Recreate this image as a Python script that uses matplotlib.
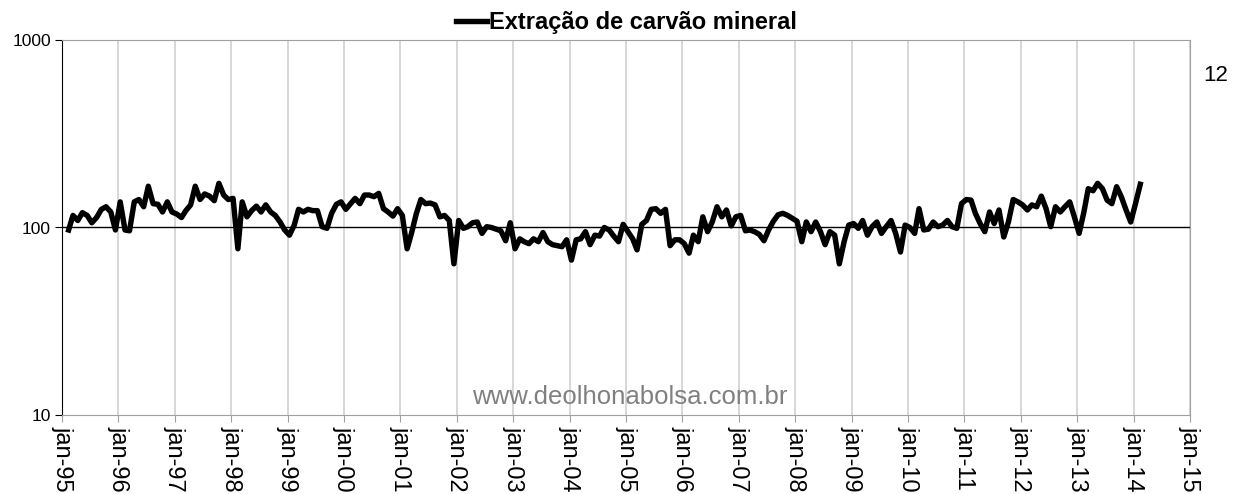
# Extração de carvão mineral - índice mensal (escala log)
import matplotlib
matplotlib.use('Agg')
import matplotlib.pyplot as plt
import pandas as pd

# dados mensais, fev-95 até fev-14
inicio = '1995-02-01'
indice = [
    97, 116, 109, 120, 116, 106, 113, 125, 129, 121, 97,
    137, 97, 96, 137, 141, 129, 166, 134, 133, 121, 137, 121,
    118, 113, 123, 132, 166, 141, 151, 147, 139, 172, 149, 141,
    143, 77, 137, 114, 123, 130, 121, 132, 121, 116, 107, 97,
    91, 103, 125, 121, 125, 123, 123, 101, 99, 119, 133, 137,
    125, 134, 143, 134, 149, 149, 146, 152, 126, 121, 115, 126,
    116, 77, 93, 118, 141, 134, 135, 132, 114, 116, 109, 64,
    109, 99, 101, 106, 107, 93, 101, 100, 98, 96, 85, 106,
    77, 87, 84, 82, 87, 84, 94, 84, 81, 80, 79, 86,
    67, 86, 87, 95, 81, 91, 90, 100, 97, 90, 84, 104,
    95, 87, 76, 104, 109, 125, 126, 119, 125, 80, 86, 86,
    82, 73, 91, 84, 114, 95, 107, 129, 114, 124, 102, 114,
    116, 96, 97, 95, 92, 85, 97, 108, 117, 119, 116, 112,
    108, 84, 107, 95, 107, 95, 81, 95, 91, 64, 84, 103,
    105, 99, 109, 91, 101, 107, 93, 101, 109, 93, 74, 103,
    100, 93, 126, 97, 98, 107, 101, 103, 109, 101, 99, 134,
    141, 140, 119, 105, 95, 121, 105, 124, 89, 107, 141, 137,
    132, 124, 132, 129, 147, 126, 101, 129, 121, 129, 137, 114,
    93, 121, 161, 157, 172, 161, 140, 134, 165, 146, 124, 107,
    134, 170,
]
anos = list(range(1995, 2016))
rotulos_x = ['jan-%02d' % (a % 100) for a in anos]
ticks_y = [10, 100, 1000]

# pontos ficam um pouco depois do início do mês
datas = pd.date_range(inicio, periods=len(indice), freq='MS') + pd.Timedelta(days=12)
ticks_x = [pd.Timestamp('%d-01-01' % a) for a in anos]

plt.rcParams['font.family'] = ['Liberation Sans', 'DejaVu Sans']

fig = plt.figure(figsize=(12.34, 4.94), dpi=100)
ax = fig.add_axes([62 / 1234, 1 - 415 / 494, (1190 - 62) / 1234, (415 - 40) / 494])

ax.plot(datas, indice, color='black', lw=3.9, solid_joinstyle='round',
        label='Extração de carvão mineral', zorder=3)
ax.axhline(100, color='black', lw=1.0, zorder=2)

ax.set_yscale('log')
ax.set_ylim(10, 1000)
ax.set_yticks(ticks_y)
ax.set_yticklabels([str(t) for t in ticks_y], fontsize=12.5)
ax.minorticks_off()

ax.set_xlim(ticks_x[0], ticks_x[-1])
ax.set_xticks(ticks_x)
ax.set_xticklabels(rotulos_x, rotation=-90, fontsize=17, va='top', ha='center')
ax.xaxis.grid(True, color='#d4d4d4', lw=1.3)
ax.set_axisbelow(True)

for lado in ['top', 'right', 'bottom']:
    ax.spines[lado].set_color('#a0a0a0')
ax.spines['left'].set_color('black')
ax.tick_params(axis='x', colors='#a0a0a0', length=5, labelcolor='black', pad=3)
ax.tick_params(axis='y', length=5, pad=3)

leg = ax.legend(loc='lower center', bbox_to_anchor=(0.5, 1.0), frameon=False,
                handlelength=1.35, handletextpad=0.05, borderaxespad=-0.15,
                prop={'weight': 'bold', 'size': 17})

fig.text(630 / 1234, 1 - 397 / 494, 'www.deolhonabolsa.com.br', color='#808080',
         fontsize=18.5, ha='center', va='center')
fig.text(1216 / 1234, 1 - 75 / 494, '12', fontsize=16, ha='center', va='center')

plt.savefig('out.png', dpi=100)
